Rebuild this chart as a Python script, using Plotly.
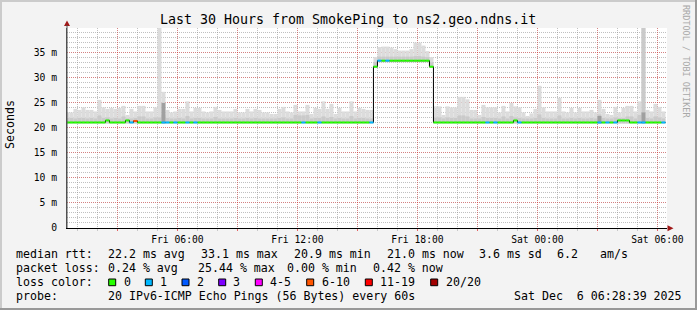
import plotly.graph_objects as go
from datetime import datetime, timedelta

# ---------------- data (12-minute consolidated SmokePing values, ms) ----------------
bar_start = datetime(2025, 12, 5, 0, 24)
bar_minutes = 12
view_start = "2025-12-05 00:28:39"
view_end = "2025-12-06 06:28:39"

median_ms = [
    21.0, 21.0, 21.0, 21.0, 21.0, 21.0, 21.0, 21.0, 21.0, 21.0,
    21.4, 21.0, 21.0, 21.0, 21.0, 21.4, 21.0, 21.3, 21.0, 21.0,
    21.0, 21.0, 21.0, 21.0, 21.0, 21.0, 21.0, 21.0, 21.0, 21.0,
    21.0, 21.0, 21.0, 21.0, 21.0, 21.0, 21.0, 21.0, 21.0, 21.0,
    21.0, 21.0, 21.0, 21.0, 21.0, 21.0, 21.0, 21.0, 21.0, 21.0,
    21.0, 21.0, 21.0, 21.0, 21.0, 21.0, 21.0, 21.0, 21.0, 21.0,
    21.0, 21.0, 21.0, 21.0, 21.0, 21.0, 21.0, 21.0, 21.0, 21.0,
    21.0, 21.0, 21.0, 21.0, 21.0, 21.0, 21.0, 32.1, 33.3, 33.3,
    33.3, 33.3, 33.3, 33.3, 33.3, 33.3, 33.3, 33.3, 33.3, 33.3,
    33.3, 32.1, 21.0, 21.0, 21.0, 21.0, 21.0, 21.0, 21.0, 21.0,
    21.0, 21.0, 21.0, 21.0, 21.0, 21.0, 21.0, 21.0, 21.0, 21.0,
    21.0, 21.0, 21.4, 21.0, 21.0, 21.0, 21.0, 21.0, 21.0, 21.0,
    21.0, 21.0, 21.0, 21.0, 21.0, 21.0, 21.0, 21.0, 21.0, 21.0,
    21.0, 21.0, 21.0, 21.0, 21.0, 21.0, 21.0, 21.0, 21.4, 21.4,
    21.4, 21.0, 21.0, 21.0, 21.0, 21.0, 21.0, 21.0, 21.0, 21.0,
]

loss_count = [
    0, 0, 0, 0, 0, 0, 0, 0, 0, 0,
    0, 0, 0, 0, 0, 0, 1, 7, 0, 0,
    0, 0, 0, 0, 1, 1, 0, 1, 0, 0,
    1, 0, 1, 0, 0, 0, 0, 0, 0, 0,
    0, 0, 0, 0, 0, 0, 0, 0, 0, 0,
    0, 0, 0, 0, 0, 0, 0, 0, 0, 1,
    0, 0, 0, 1, 0, 0, 0, 0, 0, 0,
    0, 0, 0, 0, 0, 0, 1, 0, 1, 0,
    1, 0, 0, 0, 0, 0, 0, 0, 0, 0,
    0, 0, 0, 0, 0, 0, 0, 0, 0, 0,
    0, 0, 0, 0, 0, 1, 0, 1, 0, 0,
    0, 0, 0, 1, 0, 0, 0, 0, 0, 0,
    0, 0, 0, 0, 0, 0, 0, 0, 0, 0,
    0, 0, 0, 1, 0, 1, 0, 1, 0, 0,
    0, 0, 0, 1, 1, 0, 0, 0, 0, 1,
]

smoke_min = [
    20.8, 20.8, 20.8, 20.8, 20.8, 20.8, 20.8, 20.8, 20.8, 20.8,
    20.8, 20.8, 20.8, 20.8, 20.8, 20.8, 20.8, 20.8, 20.8, 20.8,
    20.8, 20.8, 20.8, 20.8, 20.8, 20.8, 20.8, 20.8, 20.8, 20.8,
    20.8, 20.8, 20.8, 20.8, 20.8, 20.8, 20.8, 20.8, 20.8, 20.8,
    20.8, 20.8, 20.8, 20.8, 20.8, 20.8, 20.8, 20.8, 20.8, 20.8,
    20.8, 20.8, 20.8, 20.8, 20.8, 20.8, 20.8, 20.8, 20.8, 20.8,
    20.8, 20.8, 20.8, 20.8, 20.8, 20.8, 20.8, 20.8, 20.8, 20.8,
    20.8, 20.8, 20.8, 20.8, 20.8, 20.8, 20.8, 31.9, 33.0, 33.0,
    33.0, 33.0, 33.0, 33.0, 33.0, 33.0, 33.0, 33.0, 33.0, 33.0,
    33.0, 31.9, 20.8, 20.8, 20.8, 20.8, 20.8, 20.8, 20.8, 20.8,
    20.8, 20.8, 20.8, 20.8, 20.8, 20.8, 20.8, 20.8, 20.8, 20.8,
    20.8, 20.8, 20.8, 20.8, 20.8, 20.8, 20.8, 20.8, 20.8, 20.8,
    20.8, 20.8, 20.8, 20.8, 20.8, 20.8, 20.8, 20.8, 20.8, 20.8,
    20.8, 20.8, 20.8, 20.8, 20.8, 20.8, 20.8, 20.8, 20.8, 20.8,
    20.8, 20.8, 20.8, 20.8, 20.8, 20.8, 20.8, 20.8, 20.8, 20.8,
]

smoke_outer = [
    23.0, 23.0, 23.7, 23.5, 24.0, 23.5, 23.5, 23.2, 25.5, 24.0,
    23.7, 23.9, 23.7, 23.9, 24.3, 22.5, 23.7, 23.2, 24.3, 24.3,
    23.2, 23.2, 24.0, 40.0, 27.1, 23.5, 23.0, 23.2, 23.7, 23.7,
    25.2, 23.2, 23.9, 23.9, 23.2, 23.0, 23.2, 24.1, 23.5, 23.2,
    23.2, 23.2, 23.7, 23.0, 23.0, 23.7, 23.2, 23.7, 23.5, 23.0,
    23.0, 22.7, 22.7, 23.7, 24.1, 23.2, 23.0, 24.5, 23.2, 23.2,
    24.5, 22.7, 23.9, 23.7, 25.2, 23.7, 24.7, 22.7, 23.9, 23.2,
    23.2, 25.2, 23.2, 23.9, 23.7, 23.5, 23.5, 34.0, 36.0, 36.1,
    36.1, 35.9, 35.6, 35.3, 35.3, 35.3, 35.6, 36.9, 36.9, 36.3,
    35.2, 34.0, 24.2, 24.2, 22.5, 24.2, 24.0, 24.0, 26.1, 26.1,
    25.6, 23.5, 23.5, 22.5, 24.5, 24.0, 24.0, 24.0, 23.0, 24.3,
    23.2, 24.9, 24.2, 24.0, 23.0, 22.3, 22.8, 23.7, 28.3, 24.0,
    23.2, 23.2, 23.2, 25.9, 23.2, 23.0, 23.9, 23.0, 23.9, 23.2,
    23.2, 23.5, 23.0, 25.5, 23.7, 22.7, 22.5, 24.1, 23.0, 23.9,
    24.3, 24.3, 23.2, 25.2, 40.0, 23.5, 23.2, 24.7, 24.1, 23.2,
]

smoke_mid = [
    21.9, 21.9, 21.8, 21.9, 21.9, 21.8, 21.9, 21.8, 22.4, 21.9,
    22.0, 21.8, 21.9, 21.8, 22.2, 21.8, 21.8, 21.9, 22.2, 22.2,
    21.8, 21.8, 22.0, 22.0, 22.6, 21.9, 21.8, 21.8, 21.9, 21.8,
    22.3, 21.8, 21.9, 21.9, 21.8, 21.8, 21.8, 22.1, 21.8, 21.8,
    21.8, 21.8, 21.9, 21.8, 21.8, 21.9, 21.8, 21.9, 21.8, 21.8,
    21.8, 21.8, 21.8, 21.9, 22.0, 21.8, 21.8, 22.5, 22.4, 22.4,
    22.5, 21.8, 21.9, 21.9, 22.2, 21.9, 22.1, 21.8, 21.9, 21.8,
    21.8, 22.3, 21.8, 21.9, 21.9, 21.8, 21.8, 33.0, 34.1, 34.1,
    34.1, 34.1, 34.1, 34.1, 34.1, 34.1, 34.1, 34.2, 34.2, 34.1,
    34.0, 33.0, 22.0, 22.0, 21.8, 22.0, 21.9, 21.9, 22.4, 22.4,
    22.2, 21.8, 21.8, 21.8, 22.1, 21.9, 21.9, 21.9, 21.8, 22.2,
    21.8, 22.3, 22.0, 21.9, 21.8, 21.8, 21.8, 21.9, 22.6, 21.9,
    21.8, 21.8, 21.8, 22.4, 21.8, 21.8, 21.9, 21.8, 21.9, 21.8,
    21.8, 21.9, 21.8, 22.6, 21.9, 21.8, 21.8, 22.0, 21.9, 21.9,
    22.2, 22.2, 21.8, 22.5, 40.0, 21.9, 21.8, 22.2, 22.0, 21.8,
]

# darkest smoke band (only present in a few intervals)
smoke_dark = [None] * 24 + [24.9] + [None] * 108 + [22.3] + [None] * 10 + [23.0] + [None] * 5

loss_classes = ["0", "1", "2", "3", "4-5", "6-10", "11-19", "20/20"]
loss_low = [0, 1, 2, 3, 4, 6, 11, 20]
loss_high = [0, 1, 2, 3, 5, 10, 19, 20]
loss_colors = ["#26ff00", "#00b8ff", "#0059ff", "#7e00ff", "#ff00ff", "#ff5500", "#ff0000", "#a10000"]

x_tick_vals = ["2025-12-05 03:00", "2025-12-05 06:00", "2025-12-05 09:00", "2025-12-05 12:00",
               "2025-12-05 15:00", "2025-12-05 18:00", "2025-12-05 21:00", "2025-12-06 00:00",
               "2025-12-06 03:00", "2025-12-06 06:00"]
x_tick_text = ["", "Fri 06:00", "", "Fri 12:00", "", "Fri 18:00", "", "Sat 00:00", "", "Sat 06:00"]
y_tick_vals = [0, 5, 10, 15, 20, 25, 30, 35]
y_tick_text = ["0", "5 m", "10 m", "15 m", "20 m", "25 m", "30 m", "35 m"]

title_text = "Last 30 Hours from SmokePing to ns2.geo.ndns.it"
stats_rtt = ["median rtt:", "22.2 ms avg", "33.1 ms max", "20.9 ms min", "21.0 ms now", "3.6 ms sd", "6.2", "am/s"]
stats_loss = ["packet loss:", "0.24 % avg", "25.44 % max", "0.00 % min", "0.42 % now"]
probe_text = ["probe:", "20 IPv6-ICMP Echo Pings (56 Bytes) every 60s", "Sat Dec\u00a0\u00a06 06:28:39 2025"]

# ---------------- figure ----------------
W, H = 697, 310
L, T, PW, PH = 67, 28, 600, 200
MONO = "DejaVu Sans Mono"


def px(x):
    return (x - L) / PW


def py(y):
    return (T + PH - y) / PH


step = timedelta(minutes=bar_minutes)
t0 = [bar_start + i * step for i in range(len(median_ms))]
t1 = [t + step for t in t0]
width_ms = step.total_seconds() * 1000

fig = go.Figure()


def add_smoke(tops, lows, color):
    xs, bs, hs = [], [], []
    for t, tp, lo in zip(t0, tops, lows):
        if tp is None:
            continue
        xs.append(t)
        bs.append(lo)
        hs.append(tp - lo)
    fig.add_bar(x=xs, y=hs, base=bs, width=width_ms, offset=0,
                marker=dict(color=color, line=dict(width=0)), hoverinfo="skip")


add_smoke(smoke_outer, smoke_min, "#dcdcdc")
add_smoke(smoke_mid, smoke_min, "#cacaca")
add_smoke(smoke_dark, smoke_min, "#a0a0a0")

# black median step line
fig.add_scatter(x=t0 + [t1[-1]], y=median_ms + [median_ms[-1]], mode="lines",
                line=dict(color="black", width=1, shape="hv"), hoverinfo="skip")

# loss-coloured median segments
for lo_, hi_, col in zip(loss_low, loss_high, loss_colors):
    xs, ys = [], []
    for a, b, m, lc in zip(t0, t1, median_ms, loss_count):
        if lo_ <= lc <= hi_:
            xs += [a, b, None]
            ys += [m, m, None]
    if xs:
        fig.add_scatter(x=xs, y=ys, mode="lines", line=dict(color=col, width=2),
                        connectgaps=False, hoverinfo="skip")

RED_GRID = "rgba(255,0,0,0.32)"
GREY_GRID = "rgba(140,140,140,0.55)"

fig.update_layout(
    width=W, height=H, margin=dict(l=L, r=W - L - PW, t=T, b=H - T - PH, pad=0),
    paper_bgcolor="#f3f3f3", plot_bgcolor="#ffffff", showlegend=False, barmode="overlay",
    font=dict(family=MONO, color="black"),
)
fig.update_xaxes(
    type="date", range=[view_start, view_end], tickmode="array",
    tickvals=x_tick_vals, ticktext=x_tick_text,
    showgrid=True, gridcolor=RED_GRID, griddash="1px,1px", gridwidth=1,
    minor=dict(dtick=3600000, tick0="2025-12-05 00:00", showgrid=True, gridcolor=GREY_GRID,
               griddash="1px,1px", gridwidth=1, ticks="outside", ticklen=2, tickcolor="#c8c8c8"),
    ticks="outside", ticklen=2, tickcolor="rgba(255,0,0,0.5)",
    showline=True, linecolor="black", linewidth=1, zeroline=False,
    tickfont=dict(family=MONO, size=9.7, color="black"), ticklabelstandoff=0,
)
fig.update_yaxes(
    range=[0, 39.8], tickmode="array", tickvals=y_tick_vals, ticktext=y_tick_text,
    showgrid=True, gridcolor=RED_GRID, griddash="1px,1px", gridwidth=1,
    minor=dict(dtick=1, tick0=0, showgrid=True, gridcolor=GREY_GRID, griddash="1px,1px", gridwidth=1),
    ticks="", showline=True, linecolor="#505050", linewidth=1, zeroline=False,
    tickfont=dict(family=MONO, size=9.7, color="black"), ticklabelstandoff=7,
)

ann = []


def text(x, y, s, size=11.6, anchor="left", color="black", angle=0):
    ann.append(dict(xref="paper", yref="paper", x=px(x), y=py(y), text=s, showarrow=False,
                    xanchor=anchor, yanchor="middle", borderpad=0, textangle=angle,
                    font=dict(family=MONO, size=size, color=color)))


text(347.8, 19.5, title_text, size=13.3, anchor="center")
text(10, 125, "Seconds", size=11.6, anchor="center", angle=-90)
text(686, 61, "RRDTOOL / TOBI OETIKER", size=8.5, anchor="center", color="#a8a8a8", angle=90)

rtt_x = [16, 107.3, 200.7, 293.3, 386.7, 478.3, 557, 600]
for xv, s in zip(rtt_x, stats_rtt):
    text(xv - 0.8, 254, s)
loss_x = [16, 107.3, 197.3, 286.7, 372.7]
for xv, s in zip(loss_x, stats_loss):
    text(xv - 0.8, 268.3, s)
text(15.2, 282.3, "loss color:")
box_x = [108.7, 145.3, 182, 218.7, 255.3, 306.7, 365.3, 430.7]
shapes = []
for bx, lab, col in zip(box_x, loss_classes, loss_colors):
    shapes.append(dict(type="rect", xref="paper", yref="paper", x0=px(bx), x1=px(bx + 7),
                       y0=py(285.7), y1=py(279), fillcolor=col, line=dict(color="black", width=1)))
    text(bx + 14.6 - 0.8, 282.3, lab)
probe_x = [16, 107.3, 513.3]
for xv, s in zip(probe_x, probe_text):
    text(xv - 0.8, 296, s)

# axis arrows
ARROW = "#a01818"
shapes.append(dict(type="path", xref="paper", yref="paper",
                   path=f"M {px(667.5)} {py(225.3)} L {px(673.5)} {py(228.3)} L {px(667.5)} {py(231.3)} Z",
                   fillcolor=ARROW, line=dict(width=0)))
shapes.append(dict(type="path", xref="paper", yref="paper",
                   path=f"M {px(64)} {py(26)} L {px(67)} {py(20.5)} L {px(70)} {py(26)} Z",
                   fillcolor=ARROW, line=dict(width=0)))
shapes.append(dict(type="line", xref="paper", yref="paper", x0=px(67), x1=px(67), y0=py(228), y1=py(25),
                   line=dict(color="#505050", width=1)))
# frame shading
shapes += [
    dict(type="rect", xref="paper", yref="paper", x0=px(0), x1=px(W), y0=py(0), y1=py(2),
         fillcolor="#cbcbcb", line=dict(width=0)),
    dict(type="rect", xref="paper", yref="paper", x0=px(0), x1=px(2), y0=py(0), y1=py(H),
         fillcolor="#cbcbcb", line=dict(width=0)),
    dict(type="rect", xref="paper", yref="paper", x0=px(0), x1=px(W), y0=py(H - 2), y1=py(H),
         fillcolor="#999999", line=dict(width=0)),
    dict(type="rect", xref="paper", yref="paper", x0=px(W - 2), x1=px(W), y0=py(0), y1=py(H),
         fillcolor="#999999", line=dict(width=0)),
]
fig.update_layout(annotations=ann, shapes=shapes)

fig.write_html("out.html")
